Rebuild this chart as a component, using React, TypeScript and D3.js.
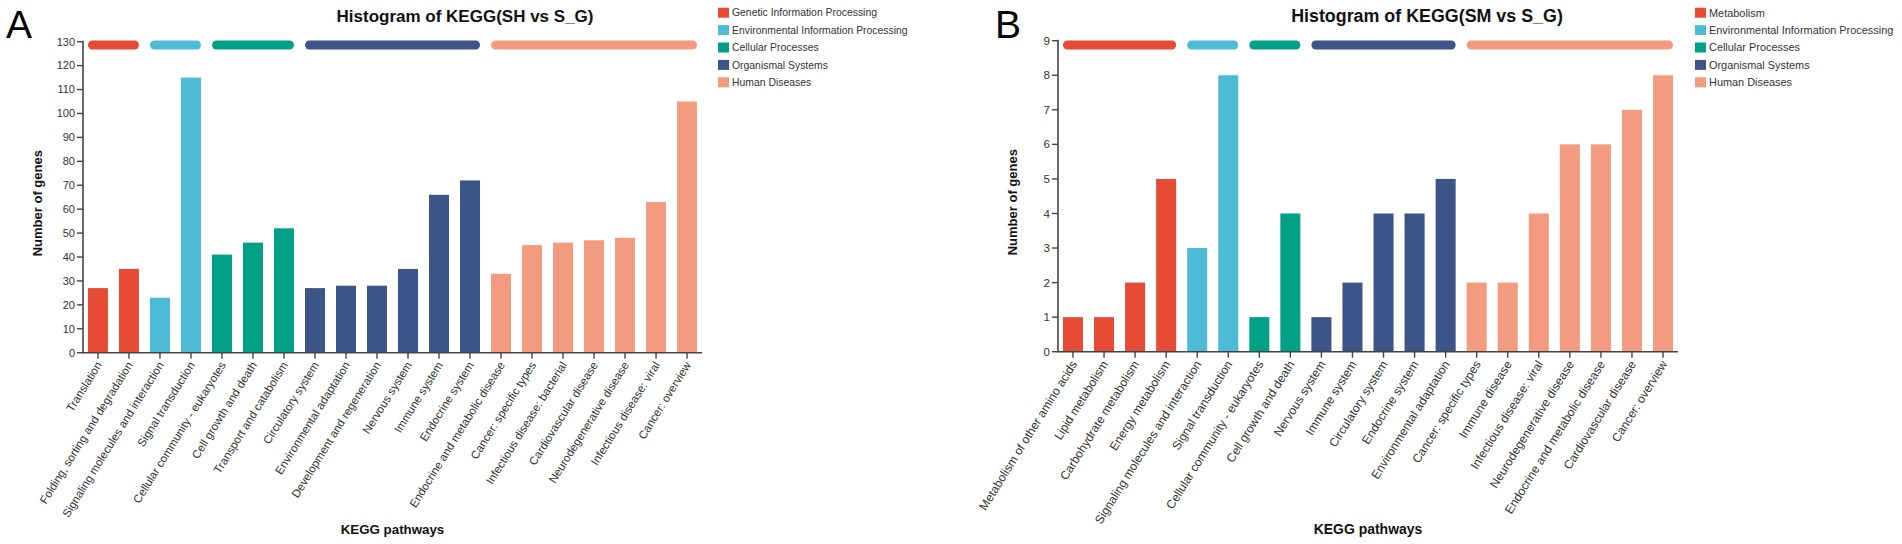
import * as d3 from 'd3'

// ---- data: panel A (SH vs S_G)
const pathwaysA = [
  'Translation',
  'Folding, sorting and degradation',
  'Signaling molecules and interaction',
  'Signal transduction',
  'Cellular community - eukaryotes',
  'Cell growth and death',
  'Transport and catabolism',
  'Circulatory system',
  'Environmental adaptation',
  'Development and regeneration',
  'Nervous system',
  'Immune system',
  'Endocrine system',
  'Endocrine and metabolic disease',
  'Cancer: specific types',
  'Infectious disease: bacterial',
  'Cardiovascular disease',
  'Neurodegenerative disease',
  'Infectious disease: viral',
  'Cancer: overview',
]
const countsA = [27, 35, 23, 115, 41, 46, 52, 27, 28, 28, 35, 66, 72, 33, 45, 46, 47, 48, 63, 105]
const classesA = [
  'Genetic Information Processing',
  'Environmental Information Processing',
  'Cellular Processes',
  'Organismal Systems',
  'Human Diseases',
]
const classSizesA = [2, 2, 3, 6, 7]

// ---- data: panel B (SM vs S_G)
const pathwaysB = [
  'Metabolism of other amino acids',
  'Lipid metabolism',
  'Carbohydrate metabolism',
  'Energy metabolism',
  'Signaling molecules and interaction',
  'Signal transduction',
  'Cellular community - eukaryotes',
  'Cell growth and death',
  'Nervous system',
  'Immune system',
  'Circulatory system',
  'Endocrine system',
  'Environmental adaptation',
  'Cancer: specific types',
  'Immune disease',
  'Infectious disease: viral',
  'Neurodegenerative disease',
  'Endocrine and metabolic disease',
  'Cardiovascular disease',
  'Cancer: overview',
]
const countsB = [1, 1, 2, 5, 3, 8, 1, 4, 1, 2, 4, 4, 5, 2, 2, 4, 6, 6, 7, 8]
const classesB = [
  'Metabolism',
  'Environmental Information Processing',
  'Cellular Processes',
  'Organismal Systems',
  'Human Diseases',
]
const classSizesB = [4, 2, 2, 5, 7]

const palette = ['#E64B35', '#4DBBD5', '#00A087', '#3C5488', '#F39B7F']

const FONT = '"Liberation Sans", Arial, Helvetica, sans-serif'

type PanelProps = {
  letter: string
  letterX: number
  title: string
  titleX: number
  names: string[]
  values: number[]
  classes: string[]
  sizes: number[]
  yMax: number
  yStep: number
  left: number
  right: number
  top: number
  bottom: number
  legendX: number
  k: number
}

function Panel(p: PanelProps) {
  const x = d3
    .scaleBand<string>()
    .domain(p.names)
    .range([p.left, p.right])
    .paddingInner(0.355)
    .paddingOuter(0.16)
  const y = d3.scaleLinear().domain([0, p.yMax]).range([p.bottom, p.top])
  const ticks = d3.range(0, p.yMax + p.yStep / 2, p.yStep)

  // class index of each bar
  const cls: number[] = []
  p.sizes.forEach((n, i) => {
    for (let j = 0; j < n; j++) cls.push(i)
  })

  // group spans for the coloured strips along the top
  let start = 0
  const groups = p.sizes.map((n, i) => {
    const a = p.names[start]
    const b = p.names[start + n - 1]
    start += n
    return { i, x0: x(a)!, x1: x(b)! + x.bandwidth() }
  })

  const axisColor = '#444'
  const textColor = '#333'

  return (
    <g fontFamily={FONT}>
      <text x={p.letterX} y={38} fontSize={39} fill="#000">
        {p.letter}
      </text>
      <text
        x={p.titleX}
        y={22}
        fontSize={17 * p.k}
        fontWeight="bold"
        textAnchor="middle"
        fill="#111"
      >
        {p.title}
      </text>

      {groups.map(g => (
        <rect
          key={'g' + g.i}
          x={g.x0}
          y={40.5}
          width={g.x1 - g.x0}
          height={9}
          rx={4.5}
          fill={palette[g.i]}
        />
      ))}

      {p.values.map((v, i) => (
        <rect
          key={'b' + i}
          x={x(p.names[i])}
          y={y(v)}
          width={x.bandwidth()}
          height={y(0) - y(v)}
          fill={palette[cls[i]]}
        />
      ))}

      {/* y axis */}
      <line x1={p.left} x2={p.left} y1={p.top - 1} y2={p.bottom} stroke={axisColor} strokeWidth={1.6} />
      {ticks.map(t => (
        <g key={'t' + t} transform={`translate(${p.left},${y(t)})`}>
          <line x1={-6} x2={0} stroke={axisColor} strokeWidth={1.4} />
          <text x={-8} dy="0.35em" textAnchor="end" fontSize={11 * p.k} fill={textColor}>
            {t}
          </text>
        </g>
      ))}
      <text
        transform={`translate(${p.left - 41},${(p.top + p.bottom) / 2 + 6}) rotate(-90)`}
        textAnchor="middle"
        fontSize={13}
        fontWeight="bold"
        fill="#111"
      >
        Number of genes
      </text>

      {/* x axis */}
      <line x1={p.left - 1} x2={p.right} y1={p.bottom} y2={p.bottom} stroke={axisColor} strokeWidth={1.6} />
      {p.names.map(n => {
        const cx = x(n)! + x.bandwidth() / 2
        return (
          <g key={'x' + n}>
            <line x1={cx} x2={cx} y1={p.bottom} y2={p.bottom + 6} stroke={axisColor} strokeWidth={1.4} />
            <text
              transform={`translate(${cx + 1},${p.bottom + 10}) rotate(-58)`}
              textAnchor="end"
              dy="0.35em"
              fontSize={11.5 * p.k}
              fill={textColor}
            >
              {n}
            </text>
          </g>
        )
      })}
      <text
        x={(p.left + p.right) / 2}
        y={534}
        textAnchor="middle"
        fontSize={13.3 * p.k}
        fontWeight="bold"
        fill="#111"
      >
        KEGG pathways
      </text>

      {/* legend */}
      {p.classes.map((c, i) => (
        <g key={'l' + c} transform={`translate(${p.legendX},${12.7 + i * 17.4})`}>
          <rect x={0} y={-5} width={11} height={10} fill={palette[i]} />
          <text x={14} dy="0.35em" fontSize={10.4 * p.k} fill={textColor}>
            {c}
          </text>
        </g>
      ))}
    </g>
  )
}

export default function App() {
  return (
    <svg
      width={1902}
      height={544}
      style={{ position: 'absolute', left: 0, top: 0, background: '#fff' }}
    >
      <rect width={1902} height={544} fill="#fff" />
      <Panel
        letter="A"
        letterX={6}
        title="Histogram of KEGG(SH vs S_G)"
        titleX={465}
        names={pathwaysA}
        values={countsA}
        classes={classesA}
        sizes={classSizesA}
        yMax={130}
        yStep={10}
        left={83}
        right={702}
        top={41.7}
        bottom={352.7}
        legendX={718}
        k={1}
      />
      <Panel
        letter="B"
        letterX={995}
        title="Histogram of KEGG(SM vs S_G)"
        titleX={1427}
        names={pathwaysB}
        values={countsB}
        classes={classesB}
        sizes={classSizesB}
        yMax={9}
        yStep={1}
        left={1058}
        right={1678}
        top={40.7}
        bottom={351.7}
        legendX={1695}
        k={1.05}
      />
    </svg>
  )
}
